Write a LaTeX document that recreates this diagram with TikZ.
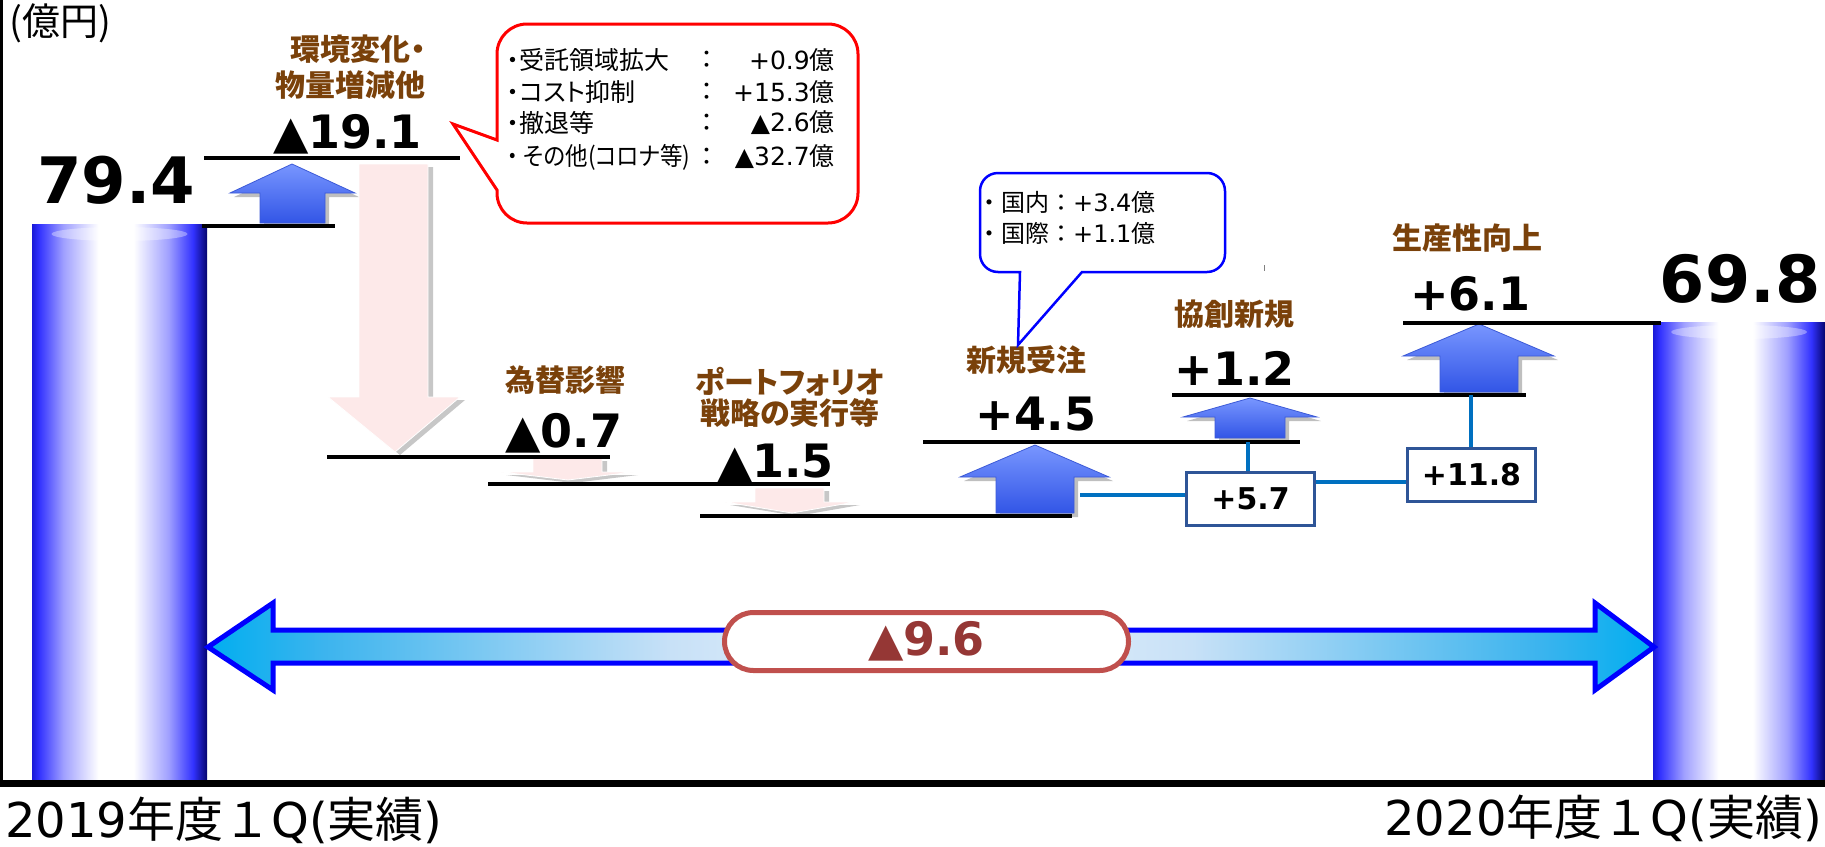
\documentclass[tikz,border=0pt]{standalone}
\usepackage{graphicx}
\usepackage{fontspec}
\setmainfont{Noto Sans CJK JP}
\newfontfamily\jpc{Noto Sans CJK JP}[RawFeature=+palt]
\newfontfamily\numf{DejaVu Sans}
\definecolor{brownlab}{RGB}{122,65,10}
\definecolor{cylA}{RGB}{25,25,215}
\definecolor{cylB}{RGB}{50,50,255}
\definecolor{cylC}{RGB}{160,160,255}
\definecolor{cylD}{RGB}{5,5,110}
\definecolor{dA}{RGB}{0,174,239}
\definecolor{dB}{RGB}{60,180,238}
\definecolor{dC}{RGB}{200,225,247}
\definecolor{dD}{RGB}{238,245,253}
\definecolor{upTop}{RGB}{120,150,255}
\definecolor{upBot}{RGB}{50,85,230}
\definecolor{upEdge}{RGB}{60,90,215}
\definecolor{pinkA}{RGB}{253,233,233}
\definecolor{connblue}{RGB}{0,112,192}
\definecolor{boxblue}{RGB}{47,85,151}
\definecolor{boxred}{RGB}{192,80,77}
\definecolor{totred}{RGB}{149,55,53}
\pgfdeclarehorizontalshading{cylshade}{100bp}{color(0bp)=(cylA); color(25bp)=(cylA); color(27bp)=(cylB); color(34bp)=(cylC); color(44bp)=(white); color(54bp)=(white); color(64bp)=(cylC); color(71bp)=(cylB); color(75bp)=(cylD); color(100bp)=(cylD)}
\pgfdeclarehorizontalshading{dblshade}{100bp}{color(0bp)=(dA); color(25bp)=(dA); color(29bp)=(dB); color(41bp)=(dC); color(50bp)=(dD); color(59bp)=(dC); color(71bp)=(dB); color(75bp)=(dA); color(100bp)=(dA)}
\newcommand\blueup[8]{%
  \fill[black,opacity=.25,shift={(4,-4)}] (#1,-#2) -- (#4,-#5) -- (#7,-#5) -- (#7,-#8) -- (#6,-#8) -- (#6,-#5) -- (#3,-#5) -- cycle;
  \shadedraw[top color=upTop,bottom color=upBot,draw=upEdge,line width=0.8] (#1,-#2) -- (#4,-#5) -- (#7,-#5) -- (#7,-#8) -- (#6,-#8) -- (#6,-#5) -- (#3,-#5) -- cycle;}
\newcommand\pinkdown[8]{%
  \fill[black,opacity=.22,shift={(5,-3)}] (#1,-#2) -- (#3,-#5) -- (#6,-#5) -- (#6,-#8) -- (#7,-#8) -- (#7,-#5) -- (#4,-#5) -- cycle;
  \filldraw[fill=pinkA,draw=white,line width=0.8] (#1,-#2) -- (#3,-#5) -- (#6,-#5) -- (#6,-#8) -- (#7,-#8) -- (#7,-#5) -- (#4,-#5) -- cycle;}
\begin{document}
\begin{tikzpicture}[x=1pt,y=1pt,
  lvl/.style={line width=4,black},
  conn/.style={line width=4,connblue},
  lab/.style={inner sep=0,text=brownlab,font=\jpc\bfseries\fontsize{30}{36}\selectfont},
  numb/.style={inner sep=0,anchor=base,font=\numf\bfseries\fontsize{46}{50}\selectfont},
  bignum/.style={inner sep=0,anchor=base,font=\numf\bfseries\fontsize{64}{70}\selectfont},
  valbox/.style={draw=boxblue,line width=2.5,fill=white,minimum width=128,minimum height=53,inner sep=0,font=\numf\bfseries\fontsize{30}{34}\selectfont},
  ct/.style={inner sep=0,font=\jpc\fontsize{25}{29}\selectfont},
  ctb/.style={inner sep=0,font=\fontsize{24}{28}\selectfont},
  yearlab/.style={inner sep=0,font=\fontsize{48}{52}\selectfont}]
\useasboundingbox (0,0) rectangle (1825,-846);
\fill[white] (0,0) rectangle (1825,-846);

% bars
\shade[shading=cylshade] (32,-224) rectangle (207,-779);
\fill[white,opacity=.35] (119.5,-234) ellipse (68 and 7);
\shade[shading=cylshade] (1653,-322) rectangle (1825,-779);
\fill[white,opacity=.35] (1739,-332) ellipse (68 and 7);

% frame
\draw[line width=2.5] (1.25,0) -- (1.25,-783);
\draw[line width=7] (0,-783) -- (1825,-783);

% arrows
\blueup{292}{164}{230}{355}{193}{260}{325}{223}
\pinkdown{395}{452}{328}{460}{397}{359}{428}{164}
\pinkdown{568}{480}{501}{633}{472}{533}{602}{458}
\pinkdown{792}{513}{725}{855}{502}{755}{824}{488}
\blueup{1035}{445}{960}{1109}{477}{996}{1074}{513}
\blueup{1250}{398}{1183}{1317}{417}{1215}{1285}{438}
\blueup{1479}{324}{1403}{1554}{356}{1440}{1518}{392}

% level lines
\draw[lvl] (204,-158) -- (460,-158);
\draw[lvl] (202,-226) -- (335,-226);
\draw[lvl] (327,-457) -- (610,-457);
\draw[lvl] (488,-484) -- (830,-484);
\draw[lvl] (700,-516) -- (1072,-516);
\draw[lvl] (923,-442) -- (1300,-442);
\draw[lvl] (1172,-395) -- (1526,-395);
\draw[lvl] (1403,-323) -- (1661,-323);

% value boxes and connectors
\node[valbox] (b57) at (1250.5,-499) {+5.7};
\node[valbox] (b118) at (1471.5,-475) {+11.8};
\coordinate (a45) at (1080,-495);
\coordinate (l5) at (1248,-442);
\coordinate (l6) at (1471,-395);
\draw[conn] (a45) -- (a45 -| b57.west);
\draw[conn] (b57.north -| l5) -- (l5);
\draw[conn] ([yshift=17]b57.east) -- ([yshift=17]b57.east -| b118.west);
\draw[conn] (b118.north -| l6) -- (l6);

% double arrow
\shadedraw[shading=dblshade,draw={rgb,255:red,0;green,0;blue,255},line width=5]
  (208,-647) -- (273,-603) -- (273,-630) -- (1595,-630) -- (1595,-603) -- (1654,-647)
  -- (1595,-690) -- (1595,-663) -- (273,-663) -- (273,-690) -- cycle;
\node[draw=boxred,line width=5,fill=white,rounded corners=29,minimum width=404,minimum height=58,inner sep=0,
  text=totred,font=\numf\bfseries\fontsize{46}{50}\selectfont] (tot) at (926.5,-641.5) {▲9.6};

% big numbers
\node[bignum] (v794) at (116,-203) {79.4};
\node[bignum,font=\numf\bfseries\fontsize{65}{70}\selectfont] (v698) at (1740,-302) {69.8};
\node[numb] (v191) at (347.5,-148) {▲19.1};
\node[numb] (v07) at (564,-447) {▲0.7};
\node[numb] (v15) at (775.5,-477) {▲1.5};
\node[numb] (v45) at (1036,-430) {+4.5};
\node[numb] (v12) at (1234.5,-385) {+1.2};
\node[numb] (v61) at (1470,-310) {+6.1};

% brown labels
\node[lab,align=right,anchor=east] (lenv) at (426,-67) {環境変化・\\物量増減他};
\node[lab] (lfx) at (565,-380) {為替影響};
\node[lab,align=center,font=\jpc\bfseries\fontsize{30}{31}\selectfont] (lpf) at (790,-397) {ポートフォリオ\\戦略の実行等};
\node[lab] (lnew) at (1026,-360) {新規受注};
\node[lab] (lco) at (1234,-314) {協創新規};
\node[lab] (lprod) at (1467,-238) {生産性向上};

% unit and axis labels
\node[inner sep=0,font=\fontsize{38}{42}\selectfont] (unit) at (60,-23) {(億円)};
\node[yearlab,anchor=west] (y19) at (5,-820) {{\numf 2019}年度１{\numf Q(}実績{\numf )}};
\node[yearlab,anchor=east] (y20) at (1822,-818) {{\numf 2020}年度１{\numf Q(}実績{\numf )}};

% red callout
\filldraw[draw=red,line width=3,fill=white]
  (497,-140) -- (497,-54) arc[start angle=180,end angle=90,radius=30] -- (828,-24)
  arc[start angle=90,end angle=0,radius=30] -- (858,-193)
  arc[start angle=0,end angle=-90,radius=30] -- (527,-223)
  arc[start angle=270,end angle=180,radius=30] -- (497,-190) -- (453,-124) -- cycle;
\node[ct,anchor=west] (r1) at (507,-60) {・受託領域拡大};
\node[ct] (r1c) at (707,-60) {：};
\node[ct,anchor=east] (r1v) at (835,-60) {{\numf +0.9}億};
\node[ct,anchor=west] (r2) at (507,-92) {・コスト抑制};
\node[ct] (r2c) at (707,-92) {：};
\node[ct,anchor=east] (r2v) at (835,-92) {{\numf +15.3}億};
\node[ct,anchor=west] (r3) at (507,-123) {・撤退等};
\node[ct] (r3c) at (707,-123) {：};
\node[ct,anchor=east] (r3v) at (835,-123) {{\numf ▲2.6}億};
\node[ct,anchor=west] (r4) at (507,-157) {\scalebox{0.9}[1]{・ その他(コロナ等)}};
\node[ct] (r4c) at (707,-157) {：};
\node[ct,anchor=east] (r4v) at (835,-157) {{\numf ▲32.7}億};

% blue callout
\filldraw[draw={rgb,255:red,0;green,0;blue,255},line width=2.5,fill=white]
  (1020,-272) -- (998,-272) arc[start angle=270,end angle=180,radius=18] -- (980,-191)
  arc[start angle=180,end angle=90,radius=18] -- (1207,-173)
  arc[start angle=90,end angle=0,radius=18] -- (1225,-254)
  arc[start angle=0,end angle=-90,radius=18] -- (1082,-272) -- (1018,-345) -- cycle;
\node[ctb,anchor=west] (d1) at (977,-202) {・国内：{\numf +3.4}億};
\node[ctb,anchor=west] (d2) at (977,-233) {・国際：{\numf +1.1}億};

% small tick mark
\draw[gray,line width=1] (1264,-265) -- (1264,-271);
\end{tikzpicture}
\end{document}
